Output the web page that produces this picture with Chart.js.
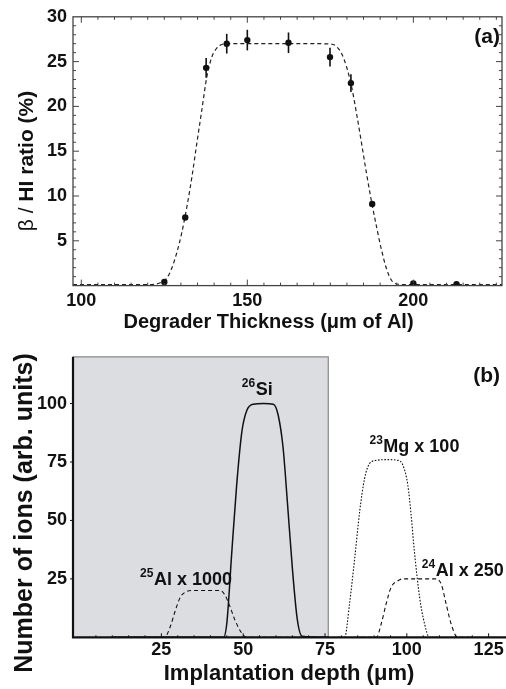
<!DOCTYPE html>
<html>
<head>
<meta charset="utf-8">
<script src="https://cdn.jsdelivr.net/npm/chart.js@4/dist/chart.umd.min.js"></script>
<style>
  html, body { margin: 0; padding: 0; background: #fff; }
  .box { position: absolute; left: 0; width: 506px; }
  #boxA { top: 0; height: 340px; }
  #boxB { top: 340px; height: 349px; }
</style>
</head>
<body>
<div class="box" id="boxA"><canvas id="chartA"></canvas></div>
<div class="box" id="boxB"><canvas id="chartB"></canvas></div>
<script>
'use strict';

// ---- panel (a): beta / HI ratio vs degrader thickness ----
const thicknessTicks = [100, 150, 200];
const ratioTicks = [5, 10, 15, 20, 25, 30];
const thickness = [125, 131.3, 137.6, 143.8, 150, 162.4, 174.9, 181.2, 187.6, 200, 213];
const ratio = [0.4, 7.6, 24.3, 27.0, 27.4, 27.1, 25.5, 22.6, 9.1, 0.25, 0.15];
const ratioErr = [0.1, 0.2, 1.1, 1.1, 1.15, 1.15, 1.05, 1.0, 0.3, 0.05, 0.05];
const fitX = [97.5, 110, 118, 122, 124, 125.7, 127.2, 128.7, 130.2, 131.8, 133.3, 134.8, 136.3, 137.8, 139.3,
  140.8, 142.3, 143.8, 150, 160, 170, 175.3, 176.8, 178.4, 179.9, 181.4, 182.9, 184.4, 185.9, 187.4, 188.9,
  190.4, 191.9, 193.4, 195.4, 198, 210, 226.7];
const fitY = [0.1, 0.1, 0.1, 0.15, 0.35, 0.8, 1.9, 3.6, 5.8, 8.8, 12.1, 15.9, 19.6, 23.3, 25.5,
  26.5, 26.9, 27.0, 27.0, 27.0, 27.0, 26.95, 26.7, 25.9, 24.4, 22.2, 19.2, 15.9, 12.5, 9.4, 6.6,
  4.0, 1.9, 0.6, 0.15, 0.1, 0.1, 0.1];

// ---- panel (b): implantation profiles ----
const depthTicks = [25, 50, 75, 100, 125];
const ionTicks = [25, 50, 75, 100];
const si26X = [10, 44, 45, 46.5, 48, 49.6, 51.1, 53.1, 56.2, 59.2, 60.7, 62.2, 63.5, 65, 66.5, 68, 76];
const si26Y = [0, 0, 6, 36, 65, 88, 97, 99.7, 100, 99.7, 95, 81, 58, 30, 8, 0.5, 0];
const al25X = [10, 26, 27.7, 29.3, 30.8, 32.3, 34.3, 38.5, 43.0, 44.5, 46.0, 47.5, 49.6, 51, 76];
const al25Y = [0, 0, 4.5, 11.6, 17.2, 19.3, 20, 20, 20, 17.9, 13, 7.3, 1.7, 0, 0];
const mg23X = [79, 81, 82.5, 84.1, 85.6, 87.1, 88.6, 90.7, 94, 97.3, 98.8, 100.3, 101.3, 102.3, 103.9, 105.4, 106.9, 110];
const mg23Y = [0, 0, 14.4, 34.1, 53.9, 68, 74.3, 75.7, 76, 75.7, 73.6, 65.2, 52.5, 36.9, 17.2, 5.9, 0, 0];
const al24X = [86, 90.7, 92.2, 93.7, 95.2, 97.3, 98.8, 104, 108.9, 110.5, 112, 113.5, 115.5, 120];
const al24Y = [0, 0, 5.9, 14.4, 21.4, 24.2, 25, 25, 25, 22.8, 14.4, 5.9, 0, 0];
const stopperEnd = 76;

// labels of panel (b), anchored in data coordinates (left edge, baseline)
const profileLabels = [
  {sup: '26', text: 'Si', x: 49.6, y: 103.6},
  {sup: '25', text: 'Al x 1000', x: 18.5, y: 22.2},
  {sup: '23', text: 'Mg x 100', x: 88.6, y: 79.3},
  {sup: '24', text: 'Al x 250', x: 104.6, y: 26.4}
];

const FONT = "'Liberation Sans', Arial, Helvetica, sans-serif";
const INK = '#111';

const pairs = (xs, ys) => xs.map((x, i) => ({x: x, y: ys[i]}));
const fixTicks = list => s => { s.ticks = list.map(v => ({value: v})); };

const line = function (ctx, x1, y1, x2, y2) {
    ctx.beginPath();
    ctx.moveTo(x1, y1);
    ctx.lineTo(x2, y2);
    ctx.stroke();
};

const axisOpts = function (min, max, ticks, pad, size, fit) {
    return {
        type: 'linear', min: min, max: max,
        grid: {display: false, drawTicks: false},
        border: {display: false},
        ticks: {font: {family: FONT, size: 18, weight: 'bold'}, color: INK, padding: pad, autoSkip: false, maxRotation: 0},
        afterBuildTicks: fixTicks(ticks),
        afterFit: s => { s[size] = fit; }
    };
};

// ---- plugins ----
const frameA = {
    id: 'frameA',
    afterDatasetsDraw(chart) {
        const {ctx, chartArea: a, scales: {x, y}} = chart;
        ctx.save();
        ctx.strokeStyle = '#444';
        ctx.lineWidth = 1.3;
        ctx.strokeRect(a.left, a.top, a.right - a.left, a.bottom - a.top);
        ctx.lineWidth = 1;
        for (let v = 100; v <= 225; v += 5) {
            const px = x.getPixelForValue(v);
            const len = v % 50 === 0 ? 6 : 3;
            line(ctx, px, a.bottom, px, a.bottom - len);
            line(ctx, px, a.top, px, a.top + len);
        }
        for (let v = 1; v < 30; v++) {
            const py = y.getPixelForValue(v);
            const len = v % 5 === 0 ? 6 : 3;
            line(ctx, a.left, py, a.left + len, py);
            line(ctx, a.right, py, a.right - len, py);
        }
        ctx.restore();
    }
};

const errorBars = {
    id: 'errorBars',
    afterDatasetsDraw(chart) {
        const {ctx, scales: {x, y}} = chart;
        ctx.save();
        ctx.strokeStyle = INK;
        ctx.lineWidth = 1.6;
        thickness.forEach((t, i) => {
            const px = x.getPixelForValue(t);
            line(ctx, px, y.getPixelForValue(ratio[i] - ratioErr[i]), px, y.getPixelForValue(ratio[i] + ratioErr[i]));
        });
        ctx.restore();
    }
};

const textA = {
    id: 'textA',
    afterDraw(chart) {
        const {ctx, chartArea: a} = chart;
        ctx.save();
        ctx.fillStyle = INK;
        ctx.textBaseline = 'alphabetic';
        ctx.font = `bold 21px ${FONT}`;
        ctx.textAlign = 'right';
        ctx.fillText('(a)', a.right - 2, 43);
        ctx.font = `bold 20px ${FONT}`;
        ctx.textAlign = 'center';
        ctx.fillText('Degrader Thickness (\u03bcm of Al)', 268.5, 328);
        // y title: plain beta and slash, bold rest
        ctx.translate(33, 161);
        ctx.rotate(-Math.PI / 2);
        ctx.textAlign = 'left';
        const plain = '\u03b2 / ', bold = 'HI ratio (%)';
        ctx.font = `21px ${FONT}`;
        const w1 = ctx.measureText(plain).width;
        ctx.font = `bold 21px ${FONT}`;
        const w2 = ctx.measureText(bold).width;
        const start = -(w1 + w2) / 2;
        ctx.font = `21px ${FONT}`;
        ctx.fillText(plain, start, 0);
        ctx.font = `bold 21px ${FONT}`;
        ctx.fillText(bold, start + w1, 0);
        ctx.restore();
    }
};

const stopper = {
    id: 'stopper',
    beforeDatasetsDraw(chart) {
        const {ctx, chartArea: a, scales: {x}} = chart;
        const xe = x.getPixelForValue(stopperEnd);
        ctx.save();
        ctx.fillStyle = '#dcdde0';
        ctx.fillRect(a.left, a.top, xe - a.left, a.bottom - a.top);
        ctx.strokeStyle = '#8a8a8a';
        ctx.lineWidth = 1.2;
        ctx.beginPath();
        ctx.moveTo(a.left, a.top);
        ctx.lineTo(xe, a.top);
        ctx.lineTo(xe, a.bottom);
        ctx.stroke();
        ctx.restore();
    }
};

const axesB = {
    id: 'axesB',
    afterDatasetsDraw(chart) {
        const {ctx, chartArea: a, scales: {x, y}} = chart;
        ctx.save();
        ctx.strokeStyle = '#111';
        ctx.lineWidth = 1;
        for (let v = 5; v <= 125; v += 5) {
            const px = x.getPixelForValue(v);
            line(ctx, px, a.bottom, px, a.bottom - (v % 25 === 0 ? 4 : 2));
        }
        ionTicks.forEach(v => {
            const py = y.getPixelForValue(v);
            line(ctx, a.left, py, a.left - 3, py);
        });
        ctx.lineWidth = 2.2;
        ctx.beginPath();
        ctx.moveTo(a.left, a.top);
        ctx.lineTo(a.left, a.bottom);
        ctx.lineTo(a.right + 1, a.bottom);
        ctx.stroke();
        ctx.restore();
    }
};

const textB = {
    id: 'textB',
    afterDraw(chart) {
        const {ctx, chartArea: a, scales: {x, y}} = chart;
        ctx.save();
        ctx.fillStyle = INK;
        ctx.textBaseline = 'alphabetic';
        profileLabels.forEach(l => {
            const px = x.getPixelForValue(l.x);
            const py = y.getPixelForValue(l.y);
            ctx.textAlign = 'left';
            ctx.font = `bold 12px ${FONT}`;
            ctx.fillText(l.sup, px, py - 8);
            const w = ctx.measureText(l.sup).width;
            ctx.font = `bold 18px ${FONT}`;
            ctx.fillText(l.text, px + w + 0.5, py);
        });
        ctx.font = `bold 21px ${FONT}`;
        ctx.textAlign = 'right';
        ctx.fillText('(b)', a.right - 5, 42);
        ctx.font = `bold 22px ${FONT}`;
        ctx.textAlign = 'center';
        ctx.fillText('Implantation depth (\u03bcm)', 289, 340);
        ctx.translate(32, 173);
        ctx.rotate(-Math.PI / 2);
        ctx.font = `bold 25px ${FONT}`;
        ctx.fillText('Number of ions (arb. units)', 0, 0);
        ctx.restore();
    }
};

const baseOpts = {
    responsive: true,
    maintainAspectRatio: false,
    animation: false,
    events: [],
    plugins: {legend: {display: false}, tooltip: {enabled: false}}
};

const profile = function (xs, ys, dash, width) {
    return {
        data: pairs(xs, ys), showLine: true, pointRadius: 0, fill: false,
        borderColor: '#111', borderWidth: width, borderDash: dash,
        cubicInterpolationMode: 'monotone'
    };
};

const init = function () {
    new Chart(document.getElementById('chartA'), {
        type: 'scatter',
        data: {
            datasets: [
                {data: pairs(thickness, ratio), pointRadius: 3.2, pointBackgroundColor: INK, pointBorderWidth: 0, showLine: false},
                {data: pairs(fitX, fitY), showLine: true, pointRadius: 0, borderColor: '#222', borderWidth: 1.2,
                    borderDash: [4, 3], cubicInterpolationMode: 'monotone', fill: false}
            ]
        },
        options: Object.assign({}, baseOpts, {
            layout: {padding: {top: 16, right: 4, left: 0, bottom: 0}},
            scales: {
                x: axisOpts(97.5, 226.7, thicknessTicks, 5, 'height', 54.4),
                y: axisOpts(0, 30, ratioTicks, 6, 'width', 73)
            }
        }),
        plugins: [frameA, errorBars, textA]
    });

    new Chart(document.getElementById('chartB'), {
        type: 'scatter',
        data: {
            datasets: [
                profile(si26X, si26Y, [], 1.5),
                profile(al25X, al25Y, [4, 3], 1.1),
                profile(mg23X, mg23Y, [1.6, 1.6], 1.1),
                profile(al24X, al24Y, [4, 3], 1.1)
            ]
        },
        options: Object.assign({}, baseOpts, {
            layout: {padding: {top: 14, right: 1, left: 0, bottom: 0}},
            scales: {
                x: axisOpts(-2, 130, depthTicks, 2, 'height', 51.7),
                y: axisOpts(0, 120, ionTicks, 6, 'width', 73)
            }
        }),
        plugins: [stopper, axesB, textB]
    });
};

document.addEventListener('DOMContentLoaded', function () {
    init();
});
</script>
</body>
</html>
